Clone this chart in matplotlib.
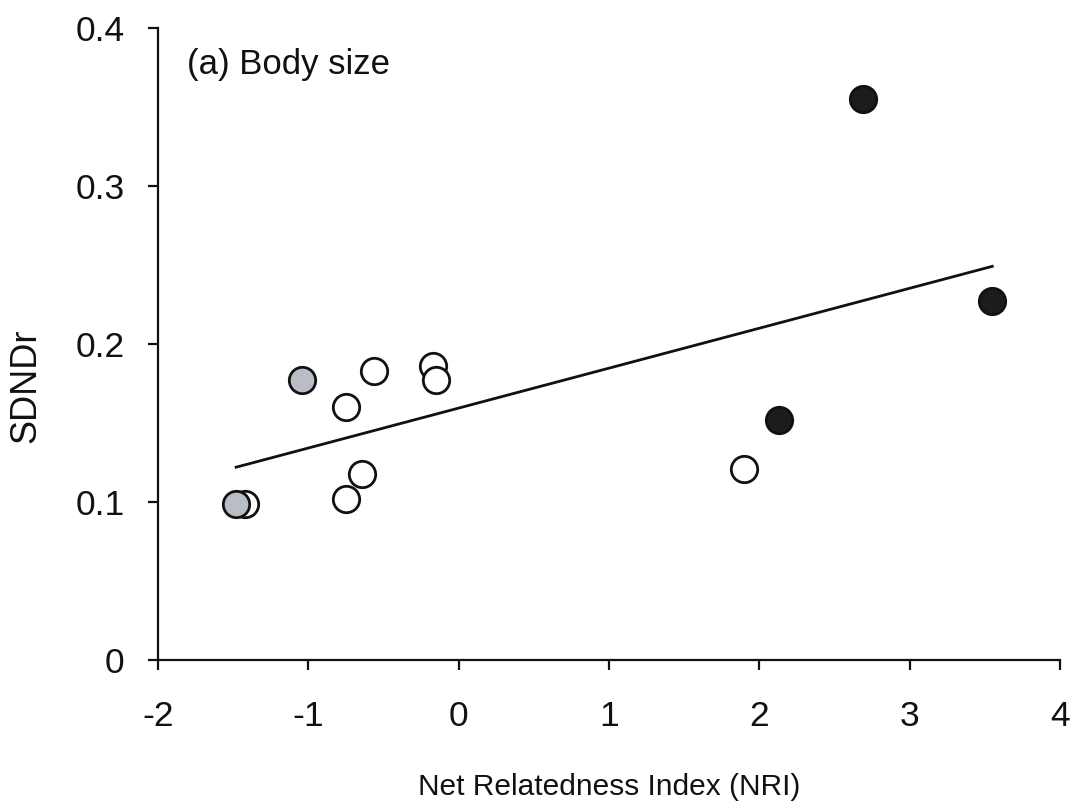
import matplotlib

matplotlib.use("Agg")

import matplotlib.pyplot as plt

plt.rcParams["font.family"] = ["Liberation Sans", "DejaVu Sans"]
plt.rcParams["axes.unicode_minus"] = False

# open circles
white_nri = [-1.42, -0.75, -0.56, -0.17, -0.15, -0.64, -0.75, 1.90]
white_sdndr = [0.099, 0.160, 0.183, 0.186, 0.177, 0.118, 0.102, 0.121]

# grey circles
grey_nri = [-1.48, -1.04]
grey_sdndr = [0.099, 0.177]

# black circles
black_nri = [2.69, 3.55, 2.13]
black_sdndr = [0.355, 0.227, 0.152]

# fitted line end points
fit_nri = [-1.48, 3.55]
fit_sdndr = [0.122, 0.249]

fig = plt.figure(figsize=(10.75, 8.09), dpi=100)
ax = fig.add_axes([0.147, 0.184, 0.839, 0.782])

ax.plot(fit_nri, fit_sdndr, color="#111111", lw=2.0, zorder=2)

marker_kw = dict(linestyle="none", marker="o", markersize=19,
                 markeredgewidth=2.0, markeredgecolor="#111111", zorder=3)
ax.plot(white_nri, white_sdndr, markerfacecolor="white", **marker_kw)
ax.plot(grey_nri, grey_sdndr, markerfacecolor="#b9bdc6", **marker_kw)
ax.plot(black_nri, black_sdndr, markerfacecolor="#1c1c1c", **marker_kw)

ax.set_xlim(-2, 4)
ax.set_ylim(0, 0.4)
ax.set_xticks([-2, -1, 0, 1, 2, 3, 4])
ax.set_yticks([0, 0.1, 0.2, 0.3, 0.4])
ax.set_yticklabels(["0", "0.1", "0.2", "0.3", "0.4"])

for side in ("top", "right"):
    ax.spines[side].set_visible(False)
for side in ("left", "bottom"):
    ax.spines[side].set_linewidth(1.6)
    ax.spines[side].set_color("#111111")

ax.tick_params(direction="out", length=7, width=1.6, labelsize=25.5,
               color="#111111", labelcolor="#111111")
ax.tick_params(axis="x", pad=22)
ax.tick_params(axis="y", pad=17)

ax.set_xlabel("Net Relatedness Index (NRI)", fontsize=21.5, color="#111111")
ax.set_ylabel("SDNDr", fontsize=26, color="#111111")
ax.xaxis.set_label_coords(0.5, -0.179)
ax.yaxis.set_label_coords(-0.127, 0.433)

ax.text(0.032, 0.927, "(a) Body size", transform=ax.transAxes,
        fontsize=25, color="#111111", va="baseline")

fig.savefig("out.png", dpi=100)
